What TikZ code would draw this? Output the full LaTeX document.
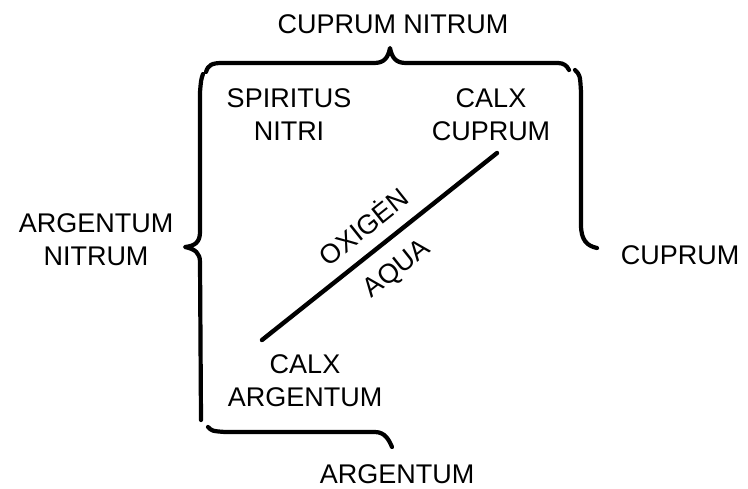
\documentclass[tikz,border=0pt]{standalone}
\usepackage{fontspec}
\setmainfont{Liberation Sans}
\usetikzlibrary{positioning}
\tikzset{
  lbl/.style={font=\fontsize{13.5}{16.5}\selectfont, align=center, inner sep=0pt},
  slopelbl/.style={lbl, sloped, text height=9.8pt, text depth=0pt},
  brc/.style={line width=2.1pt, line cap=round, line join=round},
  bar/.style={line width=2.2pt, line cap=round},
}
\begin{document}
\begin{tikzpicture}[x=0.5pt,y=-0.5pt]
\useasboundingbox (0,0) rectangle (748,488);
% outer labels
\node[lbl] (cuNit) at (393,24) {CUPRUM NITRUM};
\node[lbl] (agNit) at (96,240) {ARGENTUM\\NITRUM};
\node[lbl] (cu) at (680,255) {CUPRUM};
\node[lbl] (ag) at (397,474) {ARGENTUM};
% inner labels
\node[lbl] (spNit) at (289,115) {SPIRITUS\\NITRI};
\node[lbl] (calxCu) at (491,115) {CALX\\CUPRUM};
\node[lbl] (calxAg) at (305,381) {CALX\\ARGENTUM};
% braces
\draw[brc] (206,72) .. controls (208,65) and (212,63) .. (222,63) -- (374,63)
  .. controls (384,63) and (388,58) .. (390,48)
  .. controls (392,58) and (396,63) .. (406,63) -- (558,63)
  .. controls (564,63) and (567,66) .. (569,70);
\draw[brc] (203,74) .. controls (201,80) .. (200,92) -- (200,232)
  .. controls (200,242) and (195,246) .. (185,247)
  .. controls (195,249) and (200,253) .. (200,262) -- (201,420);
\draw[brc] (208,427) .. controls (212,431) .. (225,432) -- (375,432)
  .. controls (385,432) and (389,440) .. (392,447);
\draw[brc] (575,70) .. controls (580,75) .. (581,92) -- (581,225)
  .. controls (581,240) and (587,246) .. (597,248);
% diagonal
\coordinate (dA) at (262,340);
\coordinate (dB) at (497,153);
\draw[bar] (dA) -- node[slopelbl, above=6.6pt] (oxi) {OXIGĖN}
  node[slopelbl, below=7.1pt] (aqua) {AQUA} (dB);
\end{tikzpicture}
\end{document}
